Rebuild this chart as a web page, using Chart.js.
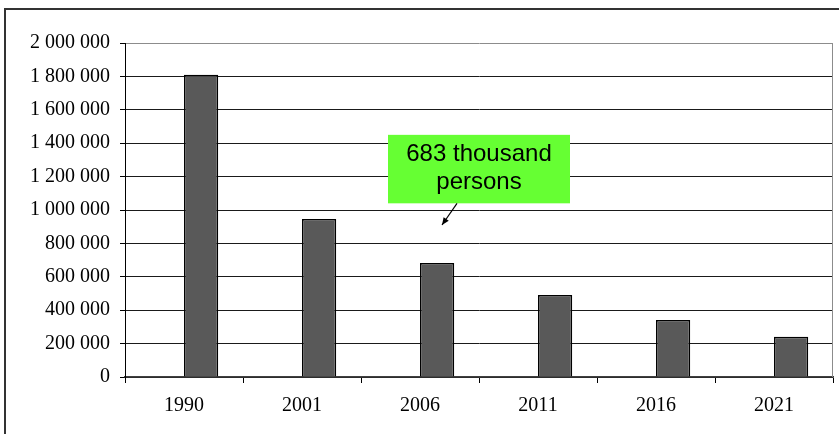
<!DOCTYPE html>
<html>
<head>
<meta charset="utf-8">
<script src="https://cdn.jsdelivr.net/npm/chart.js@4/dist/chart.umd.min.js"></script>
<style>
  html, body { margin: 0; padding: 0; background: #fff; overflow: hidden; }
  #wrap { position: relative; width: 839px; height: 434px; }
  #frame { position: absolute; left: 4px; top: 8px; width: 900px; height: 500px;
           border-left: 2px solid #333; border-top: 2px solid #333; }
  canvas { position: absolute; left: 0; top: 0; }
</style>
</head>
<body>
<div id="wrap">
  <div id="frame"></div>
  <canvas id="chart" width="839" height="434"></canvas>
</div>
<script>
// ──────────────────────────────────────────────
// Данные
// ──────────────────────────────────────────────
const years  = ['1990', '2001', '2006', '2011', '2016', '2021'];
const values = [1810000, 946000, 683000, 491000, 341000, 241000];
const yTicks = [0, 200000, 400000, 600000, 800000, 1000000, 1200000, 1400000, 1600000, 1800000, 2000000];

// подпись со стрелкой (в единицах данных)
const noteLines  = ['683 thousand', 'persons'];
const noteIndex  = 2;          // 2006
const noteTop    = 1450000;
const noteBottom = 1040000;
const arrowTip   = 910000;

function fmt(v) {
    return String(v).replace(/\B(?=(\d{3})+(?!\d))/g, ' ');
}

// рамка области построения + выноска
const notePlugin = {
    id: 'note',
    afterDraw(chart) {
        const { ctx, chartArea: a, scales: { x, y } } = chart;
        ctx.save();
        // правая граница области построения
        ctx.strokeStyle = '#8c8c8c';
        ctx.lineWidth = 1;
        ctx.beginPath();
        ctx.moveTo(Math.round(a.right) - 0.5, a.top);
        ctx.lineTo(Math.round(a.right) - 0.5, a.bottom);
        ctx.stroke();

        const cx = x.getPixelForValue(noteIndex);
        const top = y.getPixelForValue(noteTop);
        const bottom = y.getPixelForValue(noteBottom);
        const left = cx - 32, right = cx + 150;
        ctx.fillStyle = '#66ff33';
        ctx.fillRect(left, top, right - left, bottom - top);

        ctx.fillStyle = '#000';
        ctx.font = '24px "Liberation Sans", Arial, sans-serif';
        ctx.textAlign = 'center';
        ctx.textBaseline = 'middle';
        const mid = (left + right) / 2;
        ctx.fillText(noteLines[0], mid, top + 20);
        ctx.fillText(noteLines[1], mid, top + 48);

        // стрелка
        const x0 = cx + 37, y0 = bottom;
        const x1 = cx + 22, y1 = y.getPixelForValue(arrowTip);
        ctx.strokeStyle = '#000';
        ctx.lineWidth = 1.2;
        ctx.beginPath();
        ctx.moveTo(x0, y0);
        ctx.lineTo(x1, y1);
        ctx.stroke();
        const ang = Math.atan2(y1 - y0, x1 - x0);
        ctx.beginPath();
        ctx.moveTo(x1, y1);
        ctx.lineTo(x1 - 8 * Math.cos(ang - 0.4), y1 - 8 * Math.sin(ang - 0.4));
        ctx.lineTo(x1 - 8 * Math.cos(ang + 0.4), y1 - 8 * Math.sin(ang + 0.4));
        ctx.closePath();
        ctx.fillStyle = '#000';
        ctx.fill();
        ctx.restore();
    }
};

const serif = '"Liberation Serif", "Times New Roman", serif';

new Chart(document.getElementById('chart'), {
    type: 'bar',
    data: {
        labels: years,
        datasets: [
            // пустой ряд-заглушка: как в исходной диаграмме, столбец стоит правее центра категории
            { data: [], categoryPercentage: 0.58, barPercentage: 1 },
            {
                data: values,
                backgroundColor: '#595959',
                borderColor: '#000',
                borderWidth: 1.5,
                borderSkipped: 'bottom',
                categoryPercentage: 0.58,
                barPercentage: 1
            }
        ]
    },
    options: {
        responsive: false,
        animation: false,
        layout: { padding: { left: 0, right: 6, top: 43, bottom: 0 } },
        plugins: { legend: { display: false }, tooltip: { enabled: false } },
        scales: {
            x: {
                grid: { drawOnChartArea: false, drawTicks: true, tickLength: 6, color: '#000', offset: true },
                border: { color: '#404040', width: 1.5 },
                ticks: { color: '#000', padding: 11, font: { family: serif, size: 20 } },
                afterFit: s => { s.height = 57; }
            },
            y: {
                min: 0,
                max: 2000000,
                afterBuildTicks: s => { s.ticks = yTicks.map(v => ({ value: v })); },
                grid: {
                    color: c => c.tick && c.tick.value === 2000000 ? '#8c8c8c' : '#1a1a1a',
                    lineWidth: 1,
                    tickLength: 5,
                    tickColor: '#000'
                },
                border: { color: '#000', width: 1 },
                ticks: {
                    color: '#000', padding: 10,
                    font: { family: serif, size: 20 },
                    callback: v => fmt(v)
                },
                afterFit: s => { s.width = 125; }
            }
        }
    },
    plugins: [notePlugin]
});
</script>
</body>
</html>
